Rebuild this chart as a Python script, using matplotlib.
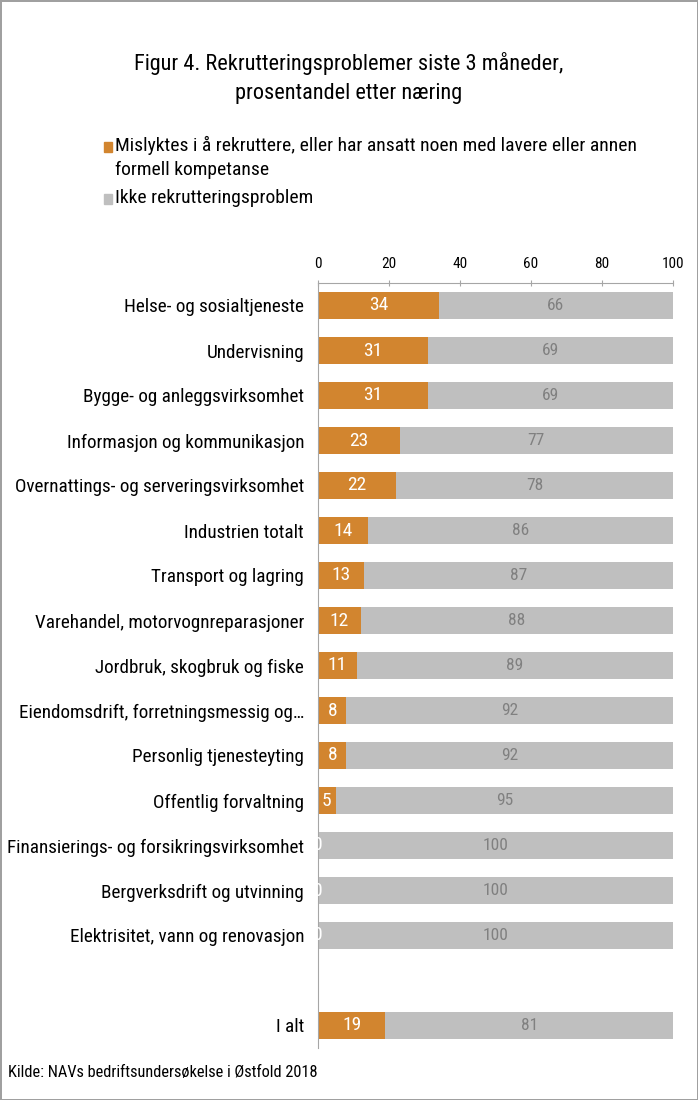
import numpy as np
import matplotlib
matplotlib.use("Agg")
import matplotlib.pyplot as plt
from matplotlib import font_manager
from matplotlib.patches import Rectangle

# -*- data

categories = [
    "Helse- og sosialtjeneste",
    "Undervisning",
    "Bygge- og anleggsvirksomhet",
    "Informasjon og kommunikasjon",
    "Overnattings- og serveringsvirksomhet",
    "Industrien totalt",
    "Transport og lagring",
    "Varehandel, motorvognreparasjoner",
    "Jordbruk, skogbruk og fiske",
    "Eiendomsdrift, forretningsmessig og\u2026",
    "Personlig tjenesteyting",
    "Offentlig forvaltning",
    "Finansierings- og forsikringsvirksomhet",
    "Bergverksdrift og utvinning",
    "Elektrisitet, vann og renovasjon",
    "",
    "I alt",
]
mislyktes = [34, 31, 31, 23, 22, 14, 13, 12, 11, 8, 8, 5, 0, 0, 0, np.nan, 19]
ikke_problem = [66, 69, 69, 77, 78, 86, 87, 88, 89, 92, 92, 95, 100, 100, 100, np.nan, 81]
xticks = [0, 20, 40, 60, 80, 100]

legend_labels = [
    "Mislyktes i å rekruttere, eller har ansatt noen med lavere eller annen\nformell kompetanse",
    "Ikke rekrutteringsproblem",
]
title = "Figur 4. Rekrutteringsproblemer siste 3 måneder,\nprosentandel etter næring"
source = "Kilde: NAVs bedriftsundersøkelse i Østfold 2018"

orange = "#D2852F"
grey = "#BFBFBF"

# -*- font: narrow sans if available
installed = {f.name for f in font_manager.fontManager.ttflist}
family = "DejaVu Sans"
for cand in ["Liberation Sans Narrow", "Roboto Condensed", "Open Sans Condensed", "Liberation Sans"]:
    if cand in installed:
        family = cand
        break
plt.rcParams["font.family"] = [family, "DejaVu Sans"]

fig = plt.figure(figsize=(6.98, 11.0), dpi=100)
fig.patch.set_edgecolor("#A0A0A0")
fig.patch.set_linewidth(2)

ax = fig.add_axes([318 / 698, 1 - 1048 / 1100, 355 / 698, 765 / 1100])

y = np.arange(len(categories))
a = np.array(mislyktes, dtype=float)
b = np.array(ikke_problem, dtype=float)
ok = ~np.isnan(a)

ax.barh(y[ok], a[ok], height=0.615, color=orange)
ax.barh(y[ok], b[ok], left=a[ok], height=0.615, color=grey)

for yi, va, vb in zip(y[ok], a[ok], b[ok]):
    ax.text(va / 2, yi, f"{va:.0f}", ha="center", va="center", color="white", fontsize=14)
    ax.text(va + vb / 2, yi, f"{vb:.0f}", ha="center", va="center", color="#808080", fontsize=12.5)

ax.set_xlim(0, 100)
ax.set_ylim(len(categories) - 0.5, -0.5)
ax.set_yticks(y)
ax.set_yticklabels(categories, fontsize=13.8)
ax.set_xticks(xticks)
ax.xaxis.tick_top()
ax.tick_params(axis="x", labelsize=11, length=5, direction="inout", color="#A6A6A6", pad=6)
ax.tick_params(axis="y", length=0, pad=10)
for side in ["right", "bottom"]:
    ax.spines[side].set_visible(False)
for side in ["top", "left"]:
    ax.spines[side].set_color("#A6A6A6")

# -*- title, legend, source
fig.text(0.5, 1 - 78 / 1100, title, ha="center", va="center", fontsize=16, linespacing=1.5)

fig.add_artist(Rectangle((104 / 698, 1 - 152 / 1100), 8 / 698, 10 / 1100, color=orange,
                         transform=fig.transFigure))
fig.add_artist(Rectangle((104 / 698, 1 - 204 / 1100), 8 / 698, 10 / 1100, color=grey,
                         transform=fig.transFigure))
fig.text(115 / 698, 1 - 136 / 1100, legend_labels[0], ha="left", va="top", fontsize=14, linespacing=1.4)
fig.text(115 / 698, 1 - 189 / 1100, legend_labels[1], ha="left", va="top", fontsize=14)

fig.text(8 / 698, 1 - 1072 / 1100, source, ha="left", va="center", fontsize=11.8)

fig.savefig("out.png", dpi=100)
